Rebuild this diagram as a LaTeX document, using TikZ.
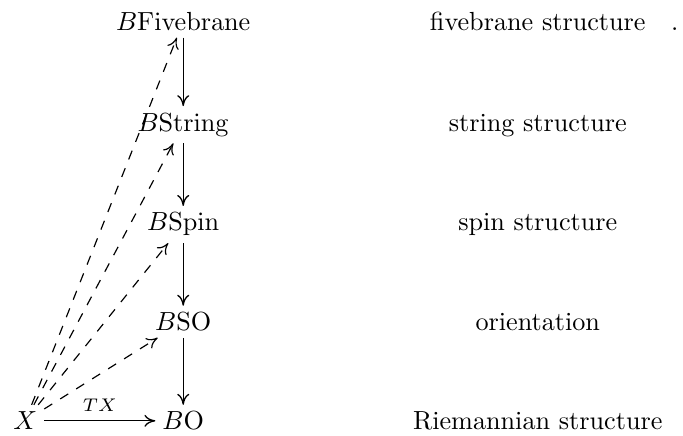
\documentclass[tikz,border=0pt]{standalone}
\usepackage{amsmath}
\usepackage{amssymb}
\usetikzlibrary{arrows.meta, positioning, calc}

\begin{document}
\begin{tikzpicture}[
    >={To[length=4.2pt, width=4.6pt]},
    obj/.style={inner sep=2.5pt, anchor=base},
    lbl/.style={anchor=base},
    lift/.style={->, line width=0.45pt, dash pattern=on 3.6pt off 3.6pt},
    proj/.style={->, line width=0.5pt}
]
    \useasboundingbox (0,0) rectangle (9.17,5.85);

    % tower of classifying spaces
    \node[obj] (fivebrane) at (2.46,5.44) {$B\mathrm{Fivebrane}$};
    \node[obj] (string) at (2.46,4.09) {$B\mathrm{String}$};
    \node[obj] (spin) at (2.46,2.75) {$B\mathrm{Spin}$};
    \node[obj] (so) at (2.46,1.41) {$B\mathrm{SO}$};
    \node[obj] (o) at (2.46,0.08) {$B\mathrm{O}$};
    \node[obj] (x) at (0.34,0.08) {$X$};

    % what each lift means
    \node[lbl] (fivebranetxt) at (7.22,5.44) {fivebrane structure};
    \node[lbl] (stringtxt) at (7.22,4.09) {string structure};
    \node[lbl] (spintxt) at (7.22,2.75) {spin structure};
    \node[lbl] (sotxt) at (7.22,1.41) {orientation};
    \node[lbl] (otxt) at (7.22,0.08) {Riemannian structure};
    \node[lbl] (dot) at (9.06,5.44) {.};

    % Arrows
    \draw[proj] (fivebrane) -- (string);
    \draw[proj] (string) -- (spin);
    \draw[proj] (spin) -- (so);
    \draw[proj] (so) -- (o);
    \draw[proj] (x.east) -- (x.east -| o.west) node[midway, above] {$\scriptstyle TX$};

    % Lifts
    \draw[lift] (x) -- (so);
    \draw[lift] (x) -- (spin);
    \draw[lift] (x) -- (string);
    \draw[lift] (x) -- (fivebrane);
\end{tikzpicture}
\end{document}
